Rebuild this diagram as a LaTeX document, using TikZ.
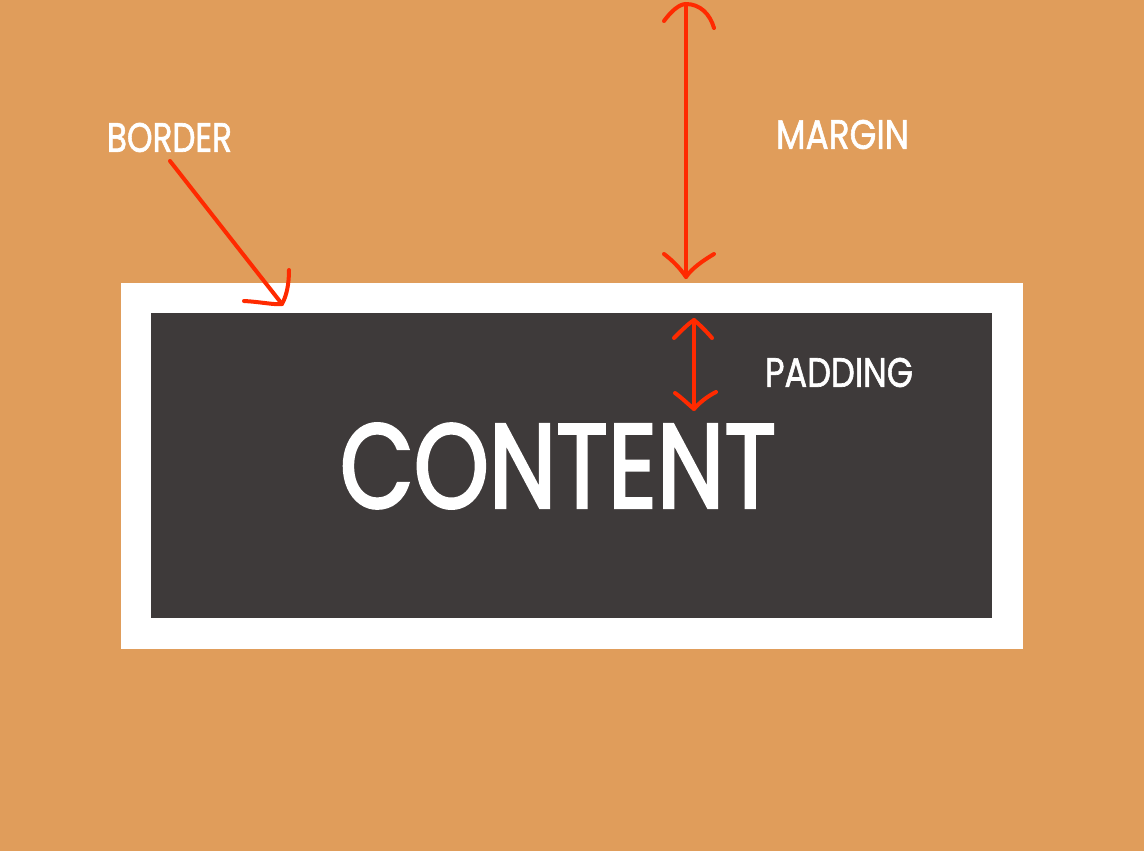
\documentclass[tikz,border=0pt]{standalone}
\usepackage{fontspec}
\usepackage{graphicx}
\setmainfont{Poppins}
\newfontfamily\heavyfont{Poppins}[FakeBold=1.6]
\newfontfamily\heavierfont{Poppins}[FakeBold=2.6]
\definecolor{bgorange}{HTML}{E09D5B}
\definecolor{darkbox}{HTML}{3E3A3A}
\definecolor{arrowred}{HTML}{FF2A00}
\newcommand{\fitlabel}[3]{\resizebox{#1pt}{#2pt}{\heavyfont #3}}
\newcommand{\fitbig}[3]{\resizebox{#1pt}{#2pt}{\heavierfont #3}}
\tikzset{
  lbl/.style={inner sep=0pt, text=white, anchor=center},
  redline/.style={draw=arrowred, line width=4pt, line cap=round, line join=round},
}
\begin{document}
\begin{tikzpicture}[x=1pt,y=-1pt]
\useasboundingbox (0,0) rectangle (1144,851);
\fill[bgorange] (0,0) rectangle (1144,851);
% border box and content box
\fill[white] (121,283) rectangle (1023,649);
\fill[darkbox] (151,313) rectangle (992,618);
\node[lbl] (content) at (558,466) {\fitbig{436}{84}{CONTENT}};
\node[lbl] (border) at (169.5,137.5) {\fitlabel{125}{29}{BORDER}};
\node[lbl] (margin) at (842.5,134.5) {\fitlabel{133}{29}{MARGIN}};
\node[lbl] (padding) at (839,372.5) {\fitlabel{148}{29}{PADDING}};
% coordinates for arrow ends
\coordinate (bstart) at (170,161);
\coordinate (bend) at (282,304);
\coordinate (mtop) at (686,4);
\coordinate (mbot) at (686,277);
\coordinate (ptop) at (694,320);
\coordinate (pbot) at (694,409);
% border arrow
\draw[redline] (bstart) -- (bend);
\draw[redline] (244,301) .. controls (262,302) and (274,305) .. (bend) .. controls (287,295) and (289,283) .. (289,270);
% margin arrow
\draw[redline] (mtop) -- (mbot);
\draw[redline] (664,21) .. controls (672,10) and (680,4) .. (mtop) .. controls (700,4) and (710,14) .. (714,28);
\draw[redline] (664,254) .. controls (672,260) and (680,268) .. (mbot) .. controls (692,268) and (704,260) .. (714,254);
% padding arrow
\draw[redline] (ptop) -- (pbot);
\draw[redline] (674,338) .. controls (682,330) and (688,324) .. (ptop) .. controls (700,325) and (706,331) .. (712,338);
\draw[redline] (675,393) .. controls (682,398) and (688,404) .. (pbot) .. controls (700,402) and (708,396) .. (716,392);
\end{tikzpicture}
\end{document}
